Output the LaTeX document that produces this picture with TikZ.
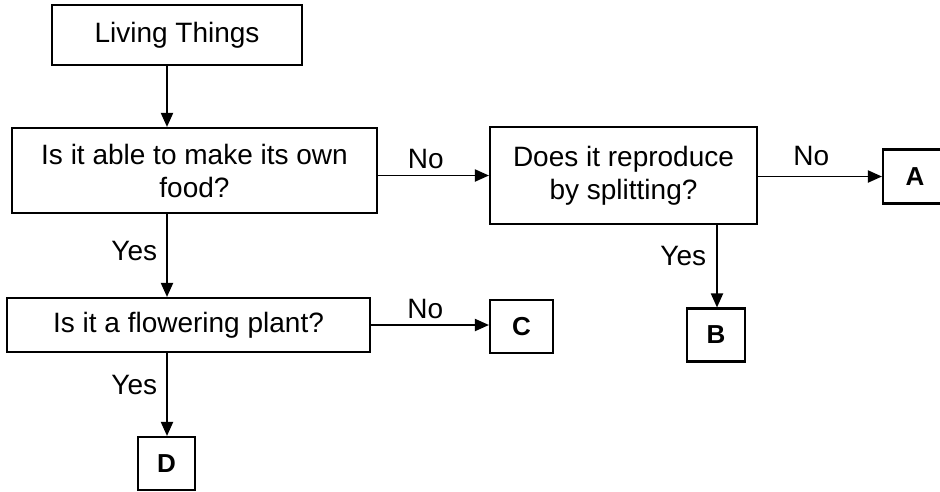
\documentclass[tikz,border=0pt]{standalone}
\usepackage{fontspec}
\setmainfont{Liberation Sans}
\usetikzlibrary{arrows.meta}
\begin{document}
\begin{tikzpicture}[x=1pt,y=-1pt,
  box/.style={draw, line width=2.1pt, inner sep=0pt, align=center, font=\fontsize{28}{33}\selectfont},
  letterbox/.style={box, font=\fontsize{26}{30}\selectfont\bfseries},
  conn/.style={line width=1.9pt, -{Triangle[length=14pt,width=12pt]}},
  lbl/.style={inner sep=0pt, font=\fontsize{28}{33}\selectfont}]
\clip (0,0) rectangle (940,491);
\fill[white] (0,0) rectangle (940,491);
% nodes
\node[box, minimum width=250pt, minimum height=60pt] (living) at (177,35) {Living Things};
\node[box, minimum width=365pt, minimum height=85pt] (food) at (194.5,170.5) {Is it able to make its own\\food?};
\node[box, minimum width=267pt, minimum height=97pt] (split) at (623.5,175.5) {Does it reproduce\\by splitting?};
\node[letterbox, minimum width=64pt, minimum height=54pt] (A) at (915,176.5) {A};
\node[box, minimum width=363pt, minimum height=54pt] (flower) at (188.5,325) {Is it a flowering plant?};
\node[letterbox, minimum width=63pt, minimum height=53pt] (C) at (521.5,326.5) {C};
\node[letterbox, minimum width=58pt, minimum height=53pt] (B) at (716,335) {B};
\node[letterbox, minimum width=57pt, minimum height=53pt] (D) at (166.5,463.5) {D};
% connector x positions
\coordinate (xl) at (167,0);
\coordinate (xr) at (717,0);
% connectors
\draw[conn] (living.south -| xl) -- (food.north -| xl);
\draw[conn] (food.south -| xl) -- node[lbl, pos=0.44, left=9pt] {Yes} (flower.north -| xl);
\draw[conn] (flower.south -| xl) -- node[lbl, pos=0.38, left=9pt] {Yes} (D.north -| xl);
\draw[conn] (food.east |- split.west) -- node[lbl, pos=0.43, above=6pt] {No} (split.west);
\draw[conn] (split.east |- A.west) -- node[lbl, pos=0.43, above=10pt] {No} (A.west);
\draw[conn] (split.south -| xr) -- node[lbl, pos=0.38, left=10pt] {Yes} (B.north -| xr);
\draw[conn] (flower.east) -- node[lbl, pos=0.46, above=5pt] {No} (C.west |- flower.east);
\end{tikzpicture}
\end{document}
